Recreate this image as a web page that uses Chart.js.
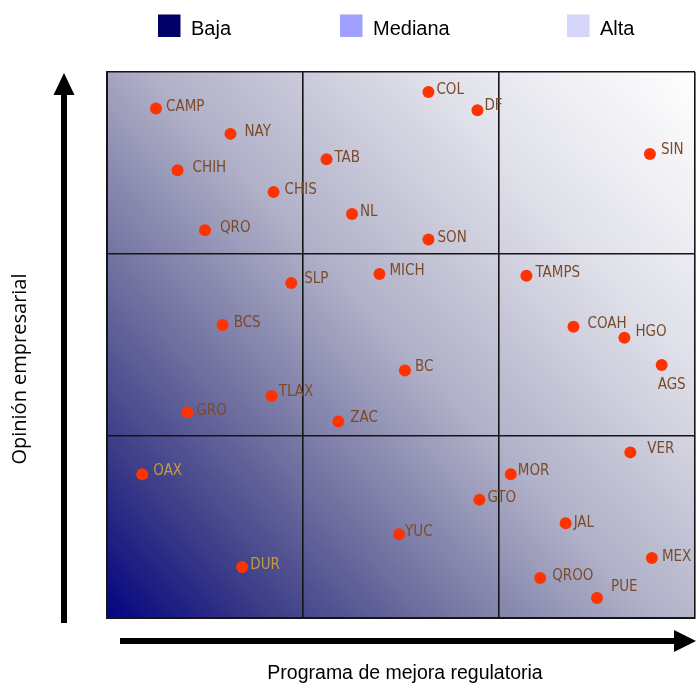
<!DOCTYPE html>
<html>
<head>
<meta charset="utf-8">
<script src="https://cdn.jsdelivr.net/npm/chart.js@4/dist/chart.umd.min.js"></script>
<style>
  html, body { margin: 0; padding: 0; background: #ffffff; }
  #wrap { width: 696px; height: 683px; position: relative; }
</style>
</head>
<body>
<div id="wrap"><canvas id="chart" width="696" height="683"></canvas></div>
<script>
// Estados y su posición en la matriz
const states = ['CAMP','NAY','CHIH','CHIS','QRO','TAB','NL','COL','DF','SIN','SON',
                'SLP','MICH','BCS','TLAX','GRO','ZAC','TAMPS','COAH','HGO','AGS','BC',
                'OAX','DUR','YUC','VER','MOR','GTO','JAL','MEX','QROO','PUE'];
// Programa de mejora regulatoria (eje horizontal, 0 a 3)
const programa = [0.25, 0.63, 0.36, 0.85, 0.50, 1.12, 1.25, 1.64, 1.89, 2.77, 1.64,
                  0.94, 1.39, 0.59, 0.84, 0.41, 1.18, 2.14, 2.38, 2.64, 2.83, 1.52,
                  0.18, 0.69, 1.49, 2.67, 2.06, 1.90, 2.34, 2.78, 2.21, 2.50];
// Opinión empresarial (eje vertical, 0 a 3)
const opinion  = [2.80, 2.66, 2.46, 2.34, 2.13, 2.52, 2.22, 2.89, 2.79, 2.55, 2.08,
                  1.84, 1.89, 1.61, 1.22, 1.13, 1.08, 1.88, 1.60, 1.54, 1.39, 1.36,
                  0.79, 0.28, 0.46, 0.91, 0.79, 0.65, 0.52, 0.33, 0.22, 0.11];
// Leyenda de niveles
const legendLabels = ['Baja', 'Mediana', 'Alta'];
const legendColors = ['#000066', '#a0a0fe', '#d6d6fb'];
const gridTicks = [0, 1, 2, 3];

// Desplazamiento de cada etiqueta respecto a su punto [dx, dy, alineación]
const labelPlacement = {
  CAMP:[10,-1.5], NAY:[14,-1.5], CHIH:[15,-2], CHIS:[11,-2], QRO:[15,-2], TAB:[8,-1],
  NL:[8,-1.5], COL:[8,-1.5], DF:[7,-4], SIN:[11,-3.5], SON:[9,-1.7], SLP:[13,-4],
  MICH:[10,-3], BCS:[11,-1.6], TLAX:[7,-4], GRO:[9,-1.7], ZAC:[12,-3], TAMPS:[9,-3],
  COAH:[14,-3], HGO:[11,-6], AGS:[10,20,'center'], BC:[10,-3], OAX:[11,-3], DUR:[8,-2],
  YUC:[6,-2], VER:[17,-3.6], MOR:[7,-3], GTO:[8,-2], JAL:[8,0], MEX:[10,-1],
  QROO:[12,-2], PUE:[14,-11]
};
const labelColorOnDark = { OAX: '#c39a3c', DUR: '#c39a3c' };

const points = states.map((s, i) => ({ x: programa[i], y: opinion[i], label: s }));

// Fondo degradado del área de la matriz
const backgroundPlugin = {
  id: 'gradientBackground',
  beforeDraw(chart) {
    const { ctx, chartArea: a } = chart;
    const g = ctx.createLinearGradient(a.left, a.bottom, a.right, a.top);
    g.addColorStop(0.00, '#040480');
    g.addColorStop(0.15, '#3c3c88');
    g.addColorStop(0.30, '#7070a0');
    g.addColorStop(0.50, '#b0b0c8');
    g.addColorStop(0.75, '#e0e0ea');
    g.addColorStop(1.00, '#ffffff');
    ctx.save();
    ctx.fillStyle = g;
    ctx.fillRect(a.left, a.top, a.right - a.left, a.bottom - a.top);
    ctx.restore();
  }
};

// Etiquetas de los estados, flechas de ejes, títulos y leyenda
const decorPlugin = {
  id: 'decor',
  afterDatasetsDraw(chart) {
    const { ctx } = chart;
    const meta = chart.getDatasetMeta(0);
    ctx.save();
    ctx.font = '15px "Liberation Sans Narrow", "DejaVu Sans Condensed", sans-serif';
    ctx.textBaseline = 'middle';
    meta.data.forEach((pt, i) => {
      const name = states[i];
      const p = labelPlacement[name] || [8, -2];
      ctx.textAlign = p[2] || 'left';
      ctx.fillStyle = labelColorOnDark[name] || '#7a4b2a';
      ctx.fillText(name, pt.x + p[0], pt.y + p[1]);
    });
    ctx.restore();
  },
  afterDraw(chart) {
    const { ctx } = chart;
    ctx.save();
    ctx.fillStyle = '#000000';
    // flecha vertical
    ctx.fillRect(61, 90, 6, 533);
    ctx.beginPath();
    ctx.moveTo(64, 73); ctx.lineTo(74.5, 95); ctx.lineTo(53.5, 95); ctx.closePath();
    ctx.fill();
    // flecha horizontal
    ctx.fillRect(120, 638, 560, 6);
    ctx.beginPath();
    ctx.moveTo(696, 641); ctx.lineTo(674, 630); ctx.lineTo(674, 652); ctx.closePath();
    ctx.fill();

    // títulos de ejes
    ctx.fillStyle = '#000000';
    ctx.textAlign = 'center';
    ctx.textBaseline = 'alphabetic';
    ctx.font = '19.5px "Liberation Sans", Arial, sans-serif';
    ctx.fillText('Programa de mejora regulatoria', 405, 679);
    ctx.save();
    ctx.translate(26, 369);
    ctx.rotate(-Math.PI / 2);
    ctx.font = '20px "Open Sans", sans-serif';
    ctx.fillText('Opinión empresarial', 0, 0);
    ctx.restore();

    // leyenda
    const legendX = [158, 340, 567];
    ctx.font = '20px "Liberation Sans", Arial, sans-serif';
    ctx.textAlign = 'left';
    ctx.textBaseline = 'alphabetic';
    legendLabels.forEach((lab, i) => {
      ctx.fillStyle = legendColors[i];
      ctx.fillRect(legendX[i], 14.5, 22.5, 22.5);
      ctx.fillStyle = '#000000';
      ctx.fillText(lab, legendX[i] + 33, 35);
    });
    ctx.restore();
  }
};

const axisCommon = {
  type: 'linear',
  min: 0,
  max: 3,
  afterBuildTicks(scale) { scale.ticks = gridTicks.map(v => ({ value: v })); },
  ticks: { display: false },
  grid: { color: '#151515', lineWidth: 1.6, drawTicks: false },
  border: { display: true, color: '#151515', width: 2 },
  title: { display: false }
};

new Chart(document.getElementById('chart'), {
  type: 'scatter',
  data: {
    datasets: [{
      data: points,
      backgroundColor: '#ff3300',
      borderWidth: 0,
      pointRadius: 6,
      pointHoverRadius: 6
    }]
  },
  options: {
    responsive: false,
    animation: false,
    devicePixelRatio: 1,
    layout: { autoPadding: false, padding: { left: 107, right: 1, top: 72, bottom: 65 } },
    plugins: { legend: { display: false }, tooltip: { enabled: false } },
    scales: {
      x: { ...axisCommon, position: 'bottom' },
      y: { ...axisCommon, position: 'left' }
    }
  },
  plugins: [backgroundPlugin, decorPlugin]
});
</script>
</body>
</html>
